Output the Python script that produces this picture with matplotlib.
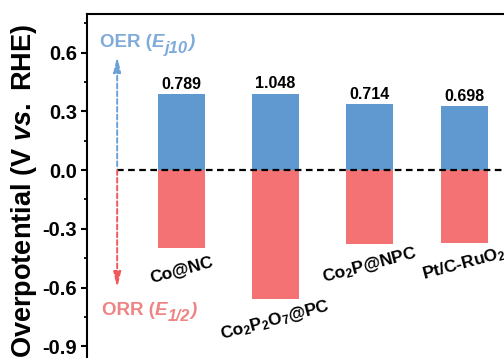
import matplotlib
matplotlib.use("Agg")
import matplotlib.pyplot as plt

# ---- data ----
categories = [r"Co@NC", r"Co$_2$P$_2$O$_7$@PC", r"Co$_2$P@NPC", r"Pt/C-RuO$_2$"]
oer_values = [0.389, 0.391, 0.337, 0.328]
orr_values = [-0.400, -0.657, -0.377, -0.370]
delta_labels = ["0.789", "1.048", "0.714", "0.698"]
yticks = [-0.9, -0.6, -0.3, 0.0, 0.3, 0.6]

plt.rcParams["font.family"] = ["Liberation Sans", "DejaVu Sans"]
plt.rcParams["font.weight"] = "bold"
plt.rcParams["mathtext.fontset"] = "custom"
plt.rcParams["mathtext.rm"] = "Liberation Sans:bold"
plt.rcParams["mathtext.it"] = "Liberation Sans:italic:bold"
plt.rcParams["mathtext.bf"] = "Liberation Sans:bold"
plt.rcParams["mathtext.default"] = "rm"
plt.rcParams["axes.unicode_minus"] = False

blue = "#5f99cf"
red = "#f47174"

fig = plt.figure(figsize=(5.04, 3.58), dpi=100)
ax = fig.add_axes([87 / 504, 1 - 13.5 / 358 - 1.0936, 0.9355, 1.0936])

x = [i + 1 for i in range(len(categories))]
ax.bar(x, oer_values, width=0.5, color=blue, zorder=2)
ax.bar(x, orr_values, width=0.5, color=red, zorder=2)

for xi, top, lab in zip(x, oer_values, delta_labels):
    ax.text(xi, top + 0.012, lab, ha="center", va="bottom", fontsize=11.5,
            fontweight="bold", color="black")

for xi, bot, cat in zip(x, orr_values, categories):
    ax.text(xi, bot - 0.11, cat, ha="center", va="center", rotation=15,
            fontsize=12.5, fontweight="bold", color="black")

ax.hlines(0, 0.32, 5, colors="black", linestyles=(0, (3, 2)), lw=1.6, zorder=3)

ax.annotate("", xy=(0.32, 0.58), xytext=(0.32, 0.02),
            arrowprops=dict(arrowstyle="-|>,head_length=0.9,head_width=0.22",
                            color="#6aa2d6", lw=1.4, linestyle=(0, (2.5, 1.5)),
                            shrinkA=0, shrinkB=0))
ax.annotate("", xy=(0.32, -0.6), xytext=(0.32, 0.0),
            arrowprops=dict(arrowstyle="-|>,head_length=0.9,head_width=0.22",
                            color="#f0585a", lw=1.4, linestyle=(0, (2.5, 1.5)),
                            shrinkA=0, shrinkB=0))

ax.set_xlim(0, 5)
ax.set_ylim(-1.2, 0.8)
ax.set_yticks(yticks)
ax.set_yticklabels([f"{v:.1f}" for v in yticks])
ax.set_yticks([-1.05, -0.75, -0.45, -0.15, 0.15, 0.45, 0.75], minor=True)
ax.set_xticks([])
ax.tick_params(axis="y", which="major", direction="out", length=4, width=1.5,
               labelsize=14.5, pad=3)
ax.tick_params(axis="y", which="minor", direction="out", length=2.5, width=1.3)
for lbl in ax.get_yticklabels():
    lbl.set_fontweight("bold")
for s in ax.spines.values():
    s.set_linewidth(1.5)

fig.text(24 / 504, 1 - 191 / 358, r"Overpotential (V $\mathit{vs.}$ RHE)",
         rotation=90, ha="center", va="center", fontsize=19.5, fontweight="bold")

# rich labels built from pieces placed one after another
renderer = fig.canvas.get_renderer()


def rich_text(x0, y0, pieces, color):
    """pieces: list of (text, size, style, dy_points, gap_points)"""
    off = 0.0
    for txt, size, style, dy, gap in pieces:
        off += gap
        t = ax.annotate(txt, xy=(x0, y0), xycoords="data",
                        xytext=(off, dy), textcoords="offset points",
                        fontsize=size, fontstyle=style, fontweight="bold",
                        color=color, ha="left", va="baseline")
        bb = t.get_window_extent(renderer)
        off += bb.width * 72 / fig.dpi


rich_text(0.14, 0.63, [("OER (", 13.5, "normal", 0, 0),
                       ("E", 13.5, "italic", 0, 0),
                       ("j10", 12.0, "italic", -4.5, 0.3),
                       (")", 13.5, "italic", 0, 0.3)], "#7fabdb")
rich_text(0.16, -0.74, [("ORR (", 13.5, "normal", 0, 0),
                        ("E", 13.5, "italic", 0, 0),
                        ("1/2", 11.5, "italic", -4.5, 0.3),
                        (")", 13.5, "italic", 0, 0.3)], "#f08383")

fig.savefig("out.png", dpi=100)
